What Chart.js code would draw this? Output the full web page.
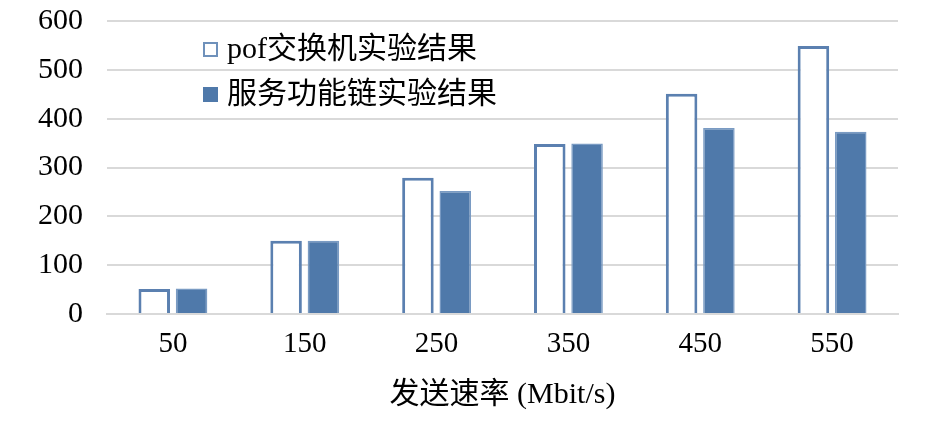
<!DOCTYPE html>
<html><head><meta charset="utf-8">
<script src="https://cdn.jsdelivr.net/npm/chart.js@4"></script>
<style>html,body{margin:0;padding:0;background:#fff}#wrap{width:945px;height:421px}</style>
</head><body><div id="wrap"><canvas id="c"></canvas></div>
<script>
const categories = ['50','150','250','350','450','550'];
const pofValues = [51, 150, 279, 348, 451, 549];
const sfcValues = [52, 150, 252, 349, 381, 373];
const seriesNames = ['pof交换机实验结果', '服务功能链实验结果'];
const yTicks = [0,100,200,300,400,500,600];
const xTitle = '发送速率 (Mbit/s)';

const FONT = "'Liberation Serif', 'Noto Sans CJK SC', serif";
const BLUE = '#4f79aa';

const legendPlugin = {
  id: 'insideLegend',
  afterDraw(chart) {
    const ctx = chart.ctx;
    ctx.save();
    ctx.font = '30px ' + FONT;
    ctx.textBaseline = 'middle';
    const rows = [49, 94];
    chart.data.datasets.forEach((ds, i) => {
      const y = rows[i];
      const x = 203;
      if (i === 0) {
        ctx.fillStyle = '#fff';
        ctx.fillRect(x, y - 7, 15, 15);
        ctx.strokeStyle = '#6f91bb';
        ctx.lineWidth = 2;
        ctx.strokeRect(x + 1, y - 6, 13, 13);
      } else {
        ctx.fillStyle = BLUE;
        ctx.fillRect(x, y - 7, 15, 15);
      }
      ctx.fillStyle = '#000';
      ctx.fillText(ds.label, 227, y + 1);
    });
    ctx.restore();
  }
};

new Chart(document.getElementById('c'), {
  type: 'bar',
  data: {
    labels: categories,
    datasets: [
      { label: seriesNames[0], data: pofValues, backgroundColor: '#ffffff', borderColor: '#5b80b0', borderWidth: 3,
        categoryPercentage: 0.566, barPercentage: 0.845 },
      { label: seriesNames[1], data: sfcValues, backgroundColor: BLUE, borderColor: '#7a9bc3', borderWidth: 1.5,
        categoryPercentage: 0.566, barPercentage: 0.845 }
    ]
  },
  options: {
    responsive: true,
    maintainAspectRatio: false,
    animation: false,
    layout: { padding: { top: 21, right: 47, left: 0, bottom: 0 } },
    plugins: { legend: { display: false }, tooltip: { enabled: false } },
    scales: {
      x: {
        grid: { display: false, drawTicks: false },
        border: { display: true, color: '#d9d9d9', width: 2 },
        ticks: { color: '#000', font: { family: FONT, size: 29 }, padding: 13 },
        title: { display: true, text: xTitle, color: '#000', font: { family: FONT, size: 30 }, padding: { top: 0, bottom: 8 } },
        afterFit(s) { s.height = 107; s.paddingLeft = 0; s.paddingRight = 0; }
      },
      y: {
        min: 0, max: 600,
        afterBuildTicks(s) { s.ticks = yTicks.map(v => ({ value: v })); },
        grid: { color: '#d9d9d9', lineWidth: 2, drawTicks: false },
        border: { display: false },
        ticks: { color: '#000', font: { family: FONT, size: 30 }, padding: 24 },
        afterFit(s) { s.width = 107; s.paddingTop = 0; s.paddingBottom = 0; }
      }
    }
  },
  plugins: [legendPlugin]
});
</script></body></html>
